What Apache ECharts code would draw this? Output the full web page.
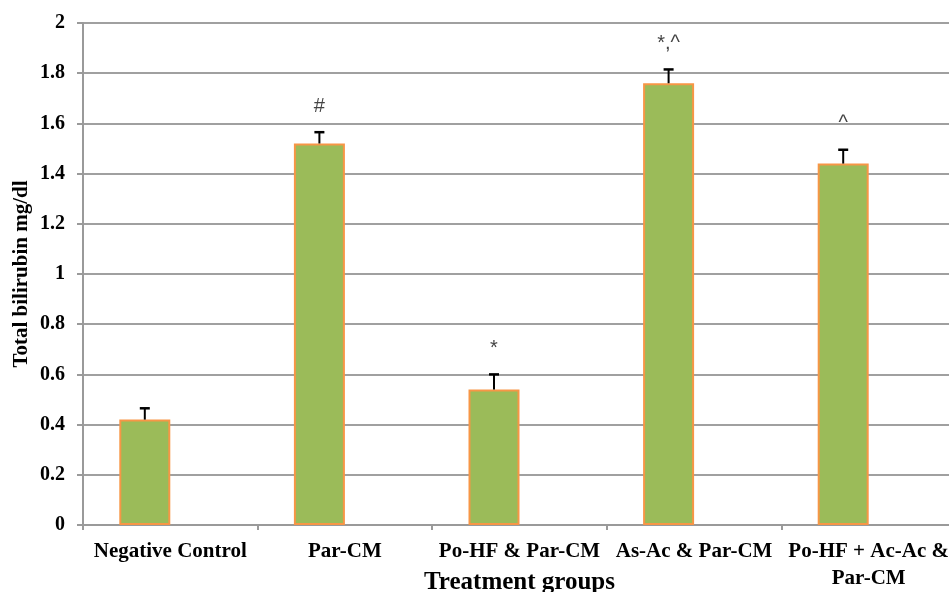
<!DOCTYPE html>
<html>
<head>
<meta charset="utf-8">
<script src="https://cdn.jsdelivr.net/npm/echarts@6/dist/echarts.min.js"></script>
<style>
html,body{margin:0;padding:0;background:#fff;}
#chart{width:949px;height:592px;}
</style>
</head>
<body>
<div id="chart"></div>
<script>
const categories = ['Negative Control', 'Par-CM', 'Po-HF & Par-CM', 'As-Ac & Par-CM', 'Po-HF + Ac-Ac &\nPar-CM'];
const means = [0.42, 1.52, 0.54, 1.76, 1.44];
const errors = [0.045, 0.045, 0.06, 0.055, 0.055];
const marks = ['', '#', '*', '*,^', '^'];
const emptySeries = [null, null, null, null, null];
const yMin = 0, yMax = 2, yInterval = 0.2;

const BAR_W = 51;
const FONT = '"Liberation Serif", "Times New Roman", serif';

const chart = echarts.init(document.getElementById('chart'));
const customData = categories.map((c, i) => [i, means[i], errors[i]]);

chart.setOption({
  animation: false,
  backgroundColor: '#fff',
  grid: { left: 83, top: 23, width: 873, height: 502, containLabel: false, outerBoundsMode: 'none' },
  xAxis: {
    type: 'category',
    data: categories,
    boundaryGap: true,
    name: 'Treatment groups',
    nameLocation: 'middle',
    nameGap: 45,
    nameMoveOverlap: false,
    nameTextStyle: { fontFamily: FONT, fontWeight: 'bold', fontSize: 25, color: '#000', verticalAlign: 'top' },
    axisLine: { lineStyle: { color: '#9a9a9a', width: 2 } },
    axisTick: { show: true, length: 5, lineStyle: { color: '#9a9a9a', width: 2 } },
    axisLabel: { interval: 0, margin: 13, fontFamily: FONT, fontWeight: 'bold', fontSize: 21, color: '#000', lineHeight: 27, hideOverlap: false },
    splitLine: { show: false }
  },
  yAxis: {
    type: 'value',
    min: yMin, max: yMax, interval: yInterval,
    name: 'Total bilirubin mg/dl',
    nameLocation: 'middle',
    nameGap: 51,
    nameRotate: 90,
    nameMoveOverlap: false,
    nameTextStyle: { fontFamily: FONT, fontWeight: 'bold', fontSize: 21, color: '#000' },
    axisLine: { show: true, lineStyle: { color: '#9a9a9a', width: 2 } },
    axisTick: { show: true, length: 6, lineStyle: { color: '#9a9a9a', width: 2 } },
    axisLabel: { margin: 18, fontFamily: FONT, fontWeight: 'bold', fontSize: 20, color: '#000' },
    splitLine: { show: true, lineStyle: { color: '#a0a0a0', width: 2 } }
  },
  series: [
    {
      type: 'bar',
      data: means,
      barWidth: BAR_W,
      barGap: '0%',
      itemStyle: { color: '#9BBB59', borderColor: '#F79646', borderWidth: 2 },
      z: 2
    },
    {
      type: 'bar',
      data: emptySeries,
      barWidth: BAR_W,
      barGap: '0%'
    },
    {
      type: 'custom',
      data: customData,
      z: 5,
      renderItem: function (params, api) {
        const i = api.value(0);
        const m = api.value(1);
        const e = api.value(2);
        const base = api.coord([i, m]);
        const top = api.coord([i, m + e]);
        const x = base[0] - BAR_W / 2;
        return {
          type: 'group',
          children: [
            { type: 'line', shape: { x1: x, y1: base[1], x2: x, y2: top[1] }, style: { stroke: '#000', lineWidth: 2 } },
            { type: 'line', shape: { x1: x - 5, y1: top[1], x2: x + 5, y2: top[1] }, style: { stroke: '#000', lineWidth: 2.5 } },
            { type: 'text', x: x, y: top[1] - 26, style: { text: marks[i], fill: '#444', font: '20px "Liberation Sans", Arial, sans-serif', align: 'center', verticalAlign: 'middle' } }
          ]
        };
      }
    }
  ]
});
</script>
</body>
</html>
